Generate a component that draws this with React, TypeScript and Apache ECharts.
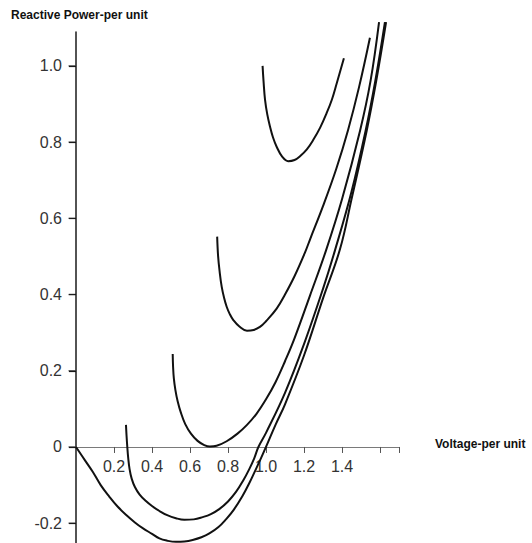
import React, { useEffect, useRef } from "react";
import * as echarts from "echarts";

// Curves: [voltage p.u., reactive power p.u.]
const curveP0: [number, number][] = [
  [0, 0], [0.05, -0.037], [0.088, -0.065], [0.13, -0.1], [0.175, -0.13], [0.22, -0.157],
  [0.263, -0.178], [0.31, -0.198], [0.351, -0.213], [0.4, -0.228], [0.439, -0.24], [0.48, -0.246],
  [0.526, -0.249], [0.57, -0.248], [0.614, -0.244], [0.66, -0.237], [0.702, -0.227], [0.75, -0.21],
  [0.789, -0.19], [0.83, -0.165], [0.877, -0.128], [0.915, -0.092], [0.947, -0.058], [0.975, -0.028],
  [1.0, 0.0], [1.05, 0.058], [1.1, 0.112], [1.2, 0.24], [1.3, 0.39], [1.39, 0.52], [1.45, 0.65],
  [1.53, 0.83], [1.58, 0.96], [1.632, 1.115],
];
const curveP1: [number, number][] = [
  [0.263, 0.058], [0.266, 0.03], [0.27, 0.0], [0.275, -0.03], [0.282, -0.058], [0.293, -0.083],
  [0.31, -0.105], [0.335, -0.125], [0.368, -0.142], [0.4, -0.155], [0.439, -0.168], [0.48, -0.179],
  [0.526, -0.187], [0.57, -0.191], [0.62, -0.19], [0.667, -0.184], [0.71, -0.176], [0.754, -0.163],
  [0.8, -0.143], [0.842, -0.118], [0.88, -0.088], [0.912, -0.058], [0.938, -0.03], [0.96, 0.0],
  [1.0, 0.037], [1.1, 0.142], [1.2, 0.27], [1.3, 0.415], [1.363, 0.516], [1.45, 0.67],
  [1.525, 0.832], [1.575, 0.96], [1.626, 1.115],
];
const curveP2: [number, number][] = [
  [0.509, 0.244], [0.511, 0.21], [0.515, 0.18], [0.523, 0.15], [0.535, 0.12], [0.552, 0.09],
  [0.575, 0.06], [0.605, 0.035], [0.64, 0.016], [0.675, 0.005], [0.705, 0.001], [0.74, 0.003],
  [0.793, 0.015], [0.85, 0.035], [0.9, 0.058], [0.95, 0.087], [1.0, 0.125], [1.05, 0.17],
  [1.1, 0.225], [1.15, 0.285], [1.232, 0.398], [1.316, 0.516], [1.4, 0.65], [1.495, 0.83],
  [1.55, 0.96], [1.595, 1.115],
];
const curveP3: [number, number][] = [
  [0.743, 0.552], [0.748, 0.5], [0.756, 0.46], [0.767, 0.42], [0.78, 0.39], [0.793, 0.368],
  [0.81, 0.348], [0.828, 0.333], [0.86, 0.316], [0.9, 0.305], [0.935, 0.307], [0.968, 0.315],
  [1.0, 0.33], [1.056, 0.363], [1.1, 0.4], [1.15, 0.448], [1.205, 0.51], [1.232, 0.545],
  [1.3, 0.632], [1.37, 0.73], [1.432, 0.832], [1.49, 0.945], [1.547, 1.074],
];
const curveP4: [number, number][] = [
  [0.982, 1.0], [0.987, 0.96], [0.995, 0.911], [1.007, 0.872], [1.021, 0.841], [1.037, 0.812],
  [1.056, 0.788], [1.085, 0.762], [1.117, 0.75], [1.15, 0.753], [1.179, 0.763], [1.215, 0.781],
  [1.249, 0.806], [1.285, 0.838], [1.319, 0.876], [1.347, 0.912], [1.372, 0.954], [1.41, 1.02],
];

const xLabels = [0.2, 0.4, 0.6, 0.8, 1.0, 1.2, 1.4];
const yTicks = [-0.2, 0, 0.2, 0.4, 0.6, 0.8, 1.0];
// y tick labels: -0.2 .. 1.0, step 0.2
const yTickMin = -0.2;
const yTickMax = 1.0;
const yTickStep = 0.2;

const yTitle = "Reactive Power-per unit";
const xTitle = "Voltage-per unit";

const FONT = '"Liberation Sans", Arial, sans-serif';

// Full extent of the drawn vertical axis
const yMin = -0.252;
const yMax = 1.089;

export default function App() {
  const ref = useRef<HTMLDivElement>(null);
  useEffect(() => {
    if (!ref.current) return;
    const chart = echarts.init(ref.current, null, { renderer: "svg" });
    const curves = [curveP0, curveP1, curveP2, curveP3, curveP4];
    const gTop = 32;
    const gH = 511;
    const ppu = gH / (yMax - yMin);
    const tickTop = gTop + (yMax - yTickMax) * ppu;
    const tickBottom = 543 - (gTop + (yMax - yTickMin) * ppu);
    chart.setOption({
      animation: false,
      backgroundColor: "#ffffff",
      grid: [
        { left: 76, right: 133, top: gTop, bottom: 0, containLabel: false, outerBoundsMode: "none" },
        { left: 76, right: 133, top: tickTop, bottom: tickBottom, containLabel: false, outerBoundsMode: "none" },
      ],
      xAxis: [
        {
          type: "value",
          gridIndex: 0,
          min: 0,
          max: 1.7,
          interval: 0.2,
          position: "bottom",
          offset: -(yMin * -ppu),
          axisLine: { show: true, onZero: false, lineStyle: { color: "#7a7a7a", width: 1 } },
          axisTick: { show: true, inside: false, length: 6, lineStyle: { color: "#555", width: 1 } },
          axisLabel: {
            customValues: xLabels,
            margin: 12,
            fontSize: 16,
            fontFamily: FONT,
            color: "#333",
            formatter: (v: number) => v.toFixed(1),
          },
          splitLine: { show: false },
        },
        {
          type: "value",
          gridIndex: 1,
          min: 0,
          max: 1.7,
          show: false,
        },
      ],
      yAxis: [
        {
          type: "value",
          gridIndex: 0,
          min: yMin,
          max: yMax,
          axisLine: { show: true, onZero: false, lineStyle: { color: "#1a1a1a", width: 1.5 } },
          axisTick: { show: false },
          axisLabel: { show: false },
          splitLine: { show: false },
        },
        {
          type: "value",
          gridIndex: 1,
          min: yTickMin,
          max: yTickMax,
          interval: yTickStep,
          axisLine: { show: false, onZero: false },
          axisTick: { show: true, inside: false, length: 7, lineStyle: { color: "#111", width: 1.2 } },
          axisLabel: {
            margin: 14,
            fontSize: 16,
            fontFamily: FONT,
            color: "#333",
            formatter: (v: number) => (Math.abs(v) < 1e-9 ? "0" : v.toFixed(1)),
          },
          splitLine: { show: false },
        },
      ],
      graphic: [
        {
          type: "text",
          left: 11,
          top: 9,
          style: { text: yTitle, font: `bold 12px ${FONT}`, fill: "#111" },
        },
        {
          type: "text",
          left: 435,
          top: 438,
          style: { text: xTitle, font: `bold 12px ${FONT}`, fill: "#111" },
        },
      ],
      series: [
        ...curves.map((c) => ({
          type: "line",
          xAxisIndex: 0,
          yAxisIndex: 0,
          data: c,
          showSymbol: false,
          smooth: 0.4,
          clip: false,
          lineStyle: { color: "#111", width: 2 },
        })),
        {
          type: "scatter",
          xAxisIndex: 0,
          yAxisIndex: 0,
          data: yTicks.map((v) => [0, v]),
          symbol: "rect",
          symbolSize: [7, 1.3],
          symbolOffset: [-4, 0],
          clip: false,
          silent: true,
          itemStyle: { color: "#222" },
        },
      ],
    });
    return () => chart.dispose();
  }, []);
  return (
    <div
      ref={ref}
      style={{ position: "fixed", left: 0, top: 0, width: 532, height: 543, background: "#fff" }}
    />
  );
}
